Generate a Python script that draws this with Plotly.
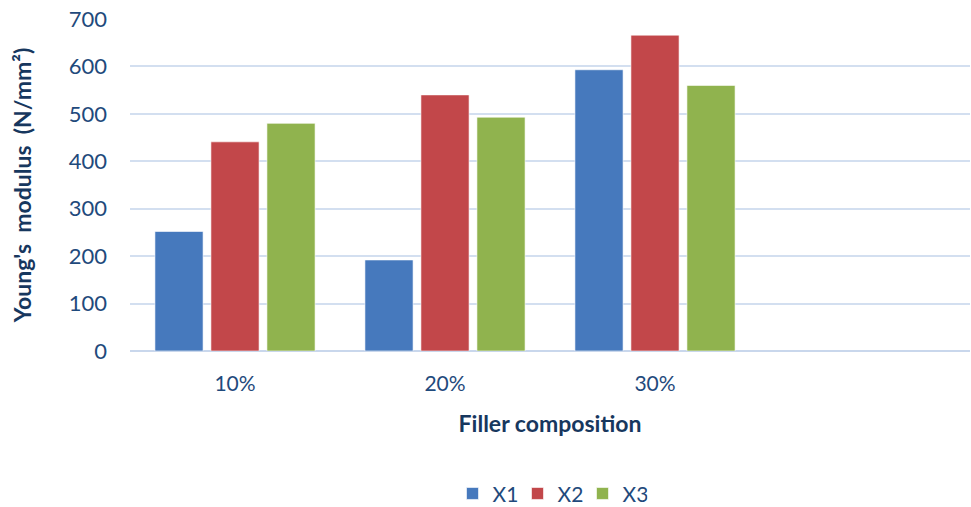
import plotly.graph_objects as go

categories = ["10%", "20%", "30%"]
series_names = ["X1", "X2", "X3"]
x1 = [252, 192, 593]
x2 = [441, 540, 666]
x3 = [480, 493, 560]
colors = ["#4679bd", "#c2474a", "#90b34e"]
y_ticks = [0, 100, 200, 300, 400, 500, 600, 700]

FONT = "Lato"
NAVY = "#1f4a7c"

fig = go.Figure()
for name, vals, col in zip(series_names, [x1, x2, x3], colors):
    fig.add_trace(go.Bar(
        x=categories, y=vals, name=name,
        marker=dict(color=col, line=dict(color="rgba(255,255,255,0.6)", width=1)),
    ))

fig.update_layout(
    width=971, height=507,
    margin=dict(l=130, r=1, t=19, b=156, autoexpand=False),
    paper_bgcolor="white", plot_bgcolor="white",
    barmode="group", bargap=0.2, bargroupgap=0.14,
    font=dict(family=FONT, color=NAVY),
    showlegend=True,
    legend=dict(orientation="h", x=0.5, xanchor="center", yref="container", y=0.026, yanchor="middle",
                font=dict(size=21, color=NAVY, family=FONT), itemwidth=30, entrywidth=20,
                traceorder="normal"),
    xaxis=dict(
        type="category", range=[-0.5, 3.5], automargin=False,
        showgrid=False, showline=False, zeroline=False,
        tickfont=dict(size=21, color=NAVY, family=FONT),
        ticks="", ticklabelstandoff=18,
        title=dict(text="<b>Filler composition</b>", font=dict(size=23, color="#17375e", family=FONT), standoff=21),
    ),
    yaxis=dict(
        range=[0, 700], tickvals=y_ticks, automargin=False,
        showgrid=True, gridcolor="#d3dff0", gridwidth=2,
        zeroline=True, zerolinecolor="#c9d7ec", zerolinewidth=2,
        showline=False,
        tickfont=dict(size=22, color=NAVY, family=FONT),
        ticks="", ticklabelstandoff=22,
        title=dict(text="<b>Young's  modulus  (N/mm²)</b>", font=dict(size=23, color="#17375e", family=FONT), standoff=30),
    ),
)

fig.write_html("out.html")
